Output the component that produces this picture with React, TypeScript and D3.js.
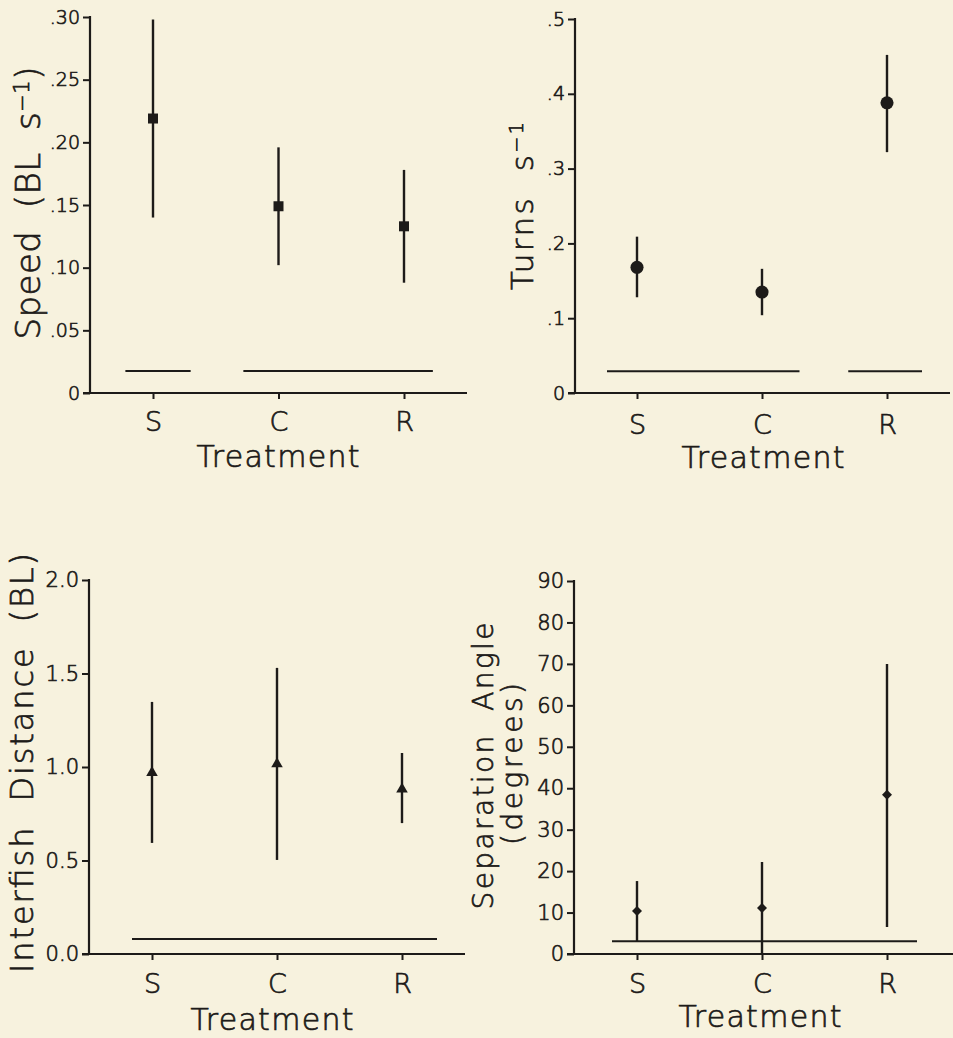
import { useEffect, useRef } from 'react'
import * as d3 from 'd3'

const W = 953
const H = 1038
const INK = '#1d1b19'
const BG = '#f7f2de'
const FONT = '"DejaVu Sans", sans-serif'
const WEIGHT = 200
const TEXT_STROKE = 0.7

const treatments = ['S', 'C', 'R']

// speed (BL s-1)
const speedMean = [0.219, 0.149, 0.133]
const speedLow = [0.140, 0.102, 0.088]
const speedHigh = [0.298, 0.196, 0.178]
const speedBars = [[-0.22, 0.30], [0.72, 2.23]]
const speedBarLevel = 0.0176
const speedTicks = [0, 0.05, 0.10, 0.15, 0.20, 0.25, 0.30]
const speedTickLabels = ['0', '.05', '.10', '.15', '.20', '.25', '.30']

// turns s-1
const turnsMean = [0.168, 0.135, 0.388]
const turnsLow = [0.128, 0.104, 0.322]
const turnsHigh = [0.209, 0.166, 0.452]
const turnsBars = [[-0.24, 1.30], [1.69, 2.28]]
const turnsBarLevel = 0.029
const turnsTicks = [0, 0.1, 0.2, 0.3, 0.4, 0.5]
const turnsTickLabels = ['0', '.1', '.2', '.3', '.4', '.5']

// interfish distance (BL)
const distMean = [0.97, 1.016, 0.882]
const distLow = [0.594, 0.503, 0.70]
const distHigh = [1.348, 1.53, 1.075]
const distBars = [[-0.16, 2.28]]
const distBarLevel = 0.08
const distTicks = [0, 0.5, 1.0, 1.5, 2.0]
const distTickLabels = ['0.0', '0.5', '1.0', '1.5', '2.0']

// separation angle (degrees)
const angleMean = [10.4, 11.1, 38.4]
const angleLow = [2.9, 0, 6.5]
const angleHigh = [17.6, 22.2, 70]
const angleBars = [[-0.2, 2.24]]
const angleBarLevel = 3.1
const angleTicks = [0, 10, 20, 30, 40, 50, 60, 70, 80, 90]
const angleTickLabels = ['0', '10', '20', '30', '40', '50', '60', '70', '80', '90']

const panels = [
  {
    mean: speedMean, low: speedLow, high: speedHigh, bars: speedBars, barLevel: speedBarLevel,
    ticks: speedTicks, tickLabels: speedTickLabels, yMax: 0.3, marker: d3.symbolSquare, markerSize: 100,
    axisX: 90, top: 17, bottom: 393, right: 467, catL: 153, catR: 404, tickFont: 19,
    catBase: 431, titleX: 278, titleBase: 467,
    ylabels: [{ parts: [['Speed  (BL  s', 0], ['−1', 1], [')', 0]], x: 40, cy: 203, len: 273, size: 34 }],
  },
  {
    mean: turnsMean, low: turnsLow, high: turnsHigh, bars: turnsBars, barLevel: turnsBarLevel,
    ticks: turnsTicks, tickLabels: turnsTickLabels, yMax: 0.5, marker: d3.symbolCircle, markerSize: 135,
    axisX: 575, top: 19, bottom: 393, right: 950, catL: 637, catR: 887, tickFont: 19,
    catBase: 434, titleX: 763, titleBase: 468,
    ylabels: [{ parts: [['Turns  s', 0], ['−1', 1]], x: 533, cy: 206, len: 168, size: 31 }],
  },
  {
    mean: distMean, low: distLow, high: distHigh, bars: distBars, barLevel: distBarLevel,
    ticks: distTicks, tickLabels: distTickLabels, yMax: 2.0, marker: d3.symbolTriangle, markerSize: 58,
    axisX: 89, top: 580, bottom: 954, right: 465, catL: 152, catR: 402, tickFont: 21,
    catBase: 993, titleX: 272, titleBase: 1030,
    ylabels: [{ parts: [['Interfish  Distance  (BL)', 0]], x: 33, cy: 763, len: 420, size: 32 }],
  },
  {
    mean: angleMean, low: angleLow, high: angleHigh, bars: angleBars, barLevel: angleBarLevel,
    ticks: angleTicks, tickLabels: angleTickLabels, yMax: 90, marker: 'diamond', markerSize: 50,
    axisX: 574, top: 581, bottom: 954, right: 953, catL: 637, catR: 887, tickFont: 21,
    catBase: 993, titleX: 760, titleBase: 1027,
    ylabels: [
      { parts: [['Separation  Angle', 0]], x: 493, cy: 766, len: 287, size: 28 },
      { parts: [['(degrees)', 0]], x: 522, cy: 764, len: 162, size: 28 },
    ],
  },
]

export default function App() {
  const svgRef = useRef(null)

  useEffect(() => {
    const svg = d3.select(svgRef.current)
    svg.selectAll('*').remove()

    svg.append('rect').attr('width', W).attr('height', H).attr('fill', BG)

    panels.forEach(p => {
      const g = svg.append('g')
      const y = d3.scaleLinear().domain([0, p.yMax]).range([p.bottom, p.top])
      const x = d3.scaleLinear().domain([0, 2]).range([p.catL, p.catR])

      // y ticks
      const yAxis = d3.axisLeft(y)
        .tickValues(p.ticks)
        .tickFormat((d, i) => p.tickLabels[i])
        .tickSize(7).tickPadding(3).tickSizeOuter(0)
      const yg = g.append('g').attr('transform', `translate(${p.axisX},0)`).call(yAxis)
      yg.select('.domain').remove()
      yg.selectAll('line').attr('stroke', INK).attr('stroke-width', 2)
      yg.selectAll('text')
        .attr('font-family', FONT).attr('font-weight', WEIGHT)
        .attr('font-size', p.tickFont).attr('fill', INK)
        .attr('stroke', INK).attr('stroke-width', TEXT_STROKE)

      // x ticks + category letters
      const catFont = 27
      const xAxis = d3.axisBottom(x)
        .tickValues([0, 1, 2])
        .tickFormat((d, i) => treatments[i])
        .tickSize(6)
        .tickPadding(p.catBase - p.bottom - 6 - 0.71 * catFont)
        .tickSizeOuter(0)
      const xg = g.append('g').attr('transform', `translate(0,${p.bottom})`).call(xAxis)
      xg.select('.domain').remove()
      xg.selectAll('line').attr('stroke', INK).attr('stroke-width', 2)
      xg.selectAll('text')
        .attr('font-family', FONT).attr('font-weight', WEIGHT)
        .attr('font-size', catFont).attr('fill', INK)
        .attr('stroke', INK).attr('stroke-width', TEXT_STROKE)

      // axis lines
      g.append('line')
        .attr('x1', p.axisX).attr('x2', p.axisX)
        .attr('y1', p.top - 1).attr('y2', p.bottom + 1)
        .attr('stroke', INK).attr('stroke-width', 2.2)
      g.append('line')
        .attr('x1', p.axisX - 7).attr('x2', p.right)
        .attr('y1', p.bottom).attr('y2', p.bottom)
        .attr('stroke', INK).attr('stroke-width', 2.2)

      // non-significance bars
      g.selectAll('.bar')
        .data(p.bars)
        .join('line')
        .attr('x1', d => x(d[0])).attr('x2', d => x(d[1]))
        .attr('y1', y(p.barLevel)).attr('y2', y(p.barLevel))
        .attr('stroke', INK).attr('stroke-width', 2)

      // error bars
      g.selectAll('.err')
        .data(p.mean)
        .join('line')
        .attr('x1', (d, i) => x(i)).attr('x2', (d, i) => x(i))
        .attr('y1', (d, i) => y(p.low[i])).attr('y2', (d, i) => y(p.high[i]))
        .attr('stroke', INK).attr('stroke-width', 2.4)

      // markers
      const sym = p.marker === 'diamond'
        ? d3.symbol(d3.symbolSquare, p.markerSize)
        : d3.symbol(p.marker, p.markerSize)
      g.selectAll('.pt')
        .data(p.mean)
        .join('path')
        .attr('d', sym)
        .attr('transform', (d, i) => `translate(${x(i)},${y(d)})${p.marker === 'diamond' ? ' rotate(45)' : ''}`)
        .attr('fill', INK)

      // x title
      g.append('text')
        .attr('x', p.titleX).attr('y', p.titleBase)
        .attr('text-anchor', 'middle')
        .attr('font-family', FONT).attr('font-weight', WEIGHT)
        .attr('font-size', 30).attr('fill', INK)
        .attr('stroke', INK).attr('stroke-width', TEXT_STROKE)
        .attr('textLength', 163).attr('lengthAdjust', 'spacing')
        .text('Treatment')

      // y titles
      p.ylabels.forEach(lab => {
        const t = g.append('text')
          .attr('transform', `translate(${lab.x},${lab.cy}) rotate(-90)`)
          .attr('text-anchor', 'middle')
          .attr('font-family', FONT).attr('font-weight', WEIGHT)
          .attr('font-size', lab.size).attr('fill', INK)
          .attr('stroke', INK).attr('stroke-width', TEXT_STROKE)
          .attr('textLength', lab.len).attr('lengthAdjust', 'spacing')
          .style('white-space', 'pre')
        let shifted = false
        lab.parts.forEach(([s, sup]) => {
          const ts = t.append('tspan').text(s as string)
          if (sup && !shifted) {
            ts.attr('dy', '-0.5em').attr('font-size', lab.size * 0.62)
            shifted = true
          } else if (!sup && shifted) {
            ts.attr('dy', `${0.5 * lab.size * 0.62 / lab.size}em`)
            shifted = false
          }
        })
      })
    })
  }, [])

  return (
    <div style={{ position: 'absolute', left: 0, top: 0, width: W, height: H }}>
      <svg ref={svgRef} width={W} height={H} style={{ display: 'block' }} />
    </div>
  )
}
